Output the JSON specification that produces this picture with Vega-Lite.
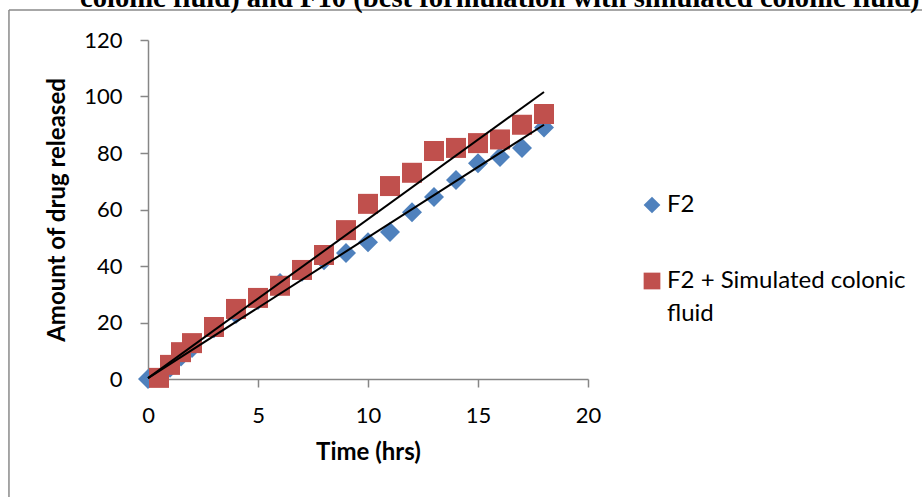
{
  "$schema": "https://vega.github.io/schema/vega-lite/v6.json",
  "autosize": {"type": "none"},
  "width": 440,
  "height": 339,
  "padding": {"left": 148, "top": 40, "right": 334, "bottom": 118},
  "background": "white",
  "title": {
    "text": "colonic fluid) and F10 (best formulation with simulated colonic fluid)",
    "font": "Liberation Serif",
    "fontSize": 28.6,
    "fontWeight": "bold",
    "color": "black",
    "anchor": "start",
    "frame": "group",
    "dx": -68,
    "offset": -3
  },
  "datasets": {
    "pts": [
      {"series": "F2", "t": 0, "v": 0},
      {"series": "F2", "t": 1, "v": 4},
      {"series": "F2", "t": 1.5, "v": 8},
      {"series": "F2", "t": 2, "v": 11},
      {"series": "F2", "t": 3, "v": 18},
      {"series": "F2", "t": 4, "v": 23},
      {"series": "F2", "t": 5, "v": 28},
      {"series": "F2", "t": 6, "v": 34},
      {"series": "F2", "t": 7, "v": 38},
      {"series": "F2", "t": 8, "v": 42},
      {"series": "F2", "t": 9, "v": 44.6},
      {"series": "F2", "t": 10, "v": 48.4},
      {"series": "F2", "t": 11, "v": 52},
      {"series": "F2", "t": 12, "v": 59},
      {"series": "F2", "t": 13, "v": 64.4},
      {"series": "F2", "t": 14, "v": 70.4},
      {"series": "F2", "t": 15, "v": 76.4},
      {"series": "F2", "t": 16, "v": 78.6},
      {"series": "F2", "t": 17, "v": 81.8},
      {"series": "F2", "t": 18, "v": 89},
      {"series": "F2 + Simulated colonic fluid", "t": 0.5, "v": 0.4},
      {"series": "F2 + Simulated colonic fluid", "t": 1, "v": 5},
      {"series": "F2 + Simulated colonic fluid", "t": 1.5, "v": 9.5},
      {"series": "F2 + Simulated colonic fluid", "t": 2, "v": 12.7},
      {"series": "F2 + Simulated colonic fluid", "t": 3, "v": 18.4},
      {"series": "F2 + Simulated colonic fluid", "t": 4, "v": 24.8},
      {"series": "F2 + Simulated colonic fluid", "t": 5, "v": 28.7},
      {"series": "F2 + Simulated colonic fluid", "t": 6, "v": 33},
      {"series": "F2 + Simulated colonic fluid", "t": 7, "v": 38.6},
      {"series": "F2 + Simulated colonic fluid", "t": 8, "v": 43.9},
      {"series": "F2 + Simulated colonic fluid", "t": 9, "v": 52.7},
      {"series": "F2 + Simulated colonic fluid", "t": 10, "v": 62},
      {"series": "F2 + Simulated colonic fluid", "t": 11, "v": 68.3},
      {"series": "F2 + Simulated colonic fluid", "t": 12, "v": 73},
      {"series": "F2 + Simulated colonic fluid", "t": 13, "v": 80.7},
      {"series": "F2 + Simulated colonic fluid", "t": 14, "v": 81.8},
      {"series": "F2 + Simulated colonic fluid", "t": 15, "v": 83.5},
      {"series": "F2 + Simulated colonic fluid", "t": 16, "v": 84.8},
      {"series": "F2 + Simulated colonic fluid", "t": 17, "v": 90},
      {"series": "F2 + Simulated colonic fluid", "t": 18, "v": 93.8}
    ],
    "trend": [
      {"line": "F2", "t": 0, "v": 0.3},
      {"line": "F2", "t": 18, "v": 90},
      {"line": "F2 + Simulated colonic fluid", "t": 0, "v": 0.3},
      {"line": "F2 + Simulated colonic fluid", "t": 18, "v": 101.6}
    ]
  },
  "layer": [
    {
      "data": {"values": [{}]},
      "mark": {"type": "rule", "color": "#8a8a8a", "strokeWidth": 1.5, "clip": false},
      "encoding": {
        "x": {"datum": -6.32, "type": "quantitative", "scale": {"domain": [0, 20], "nice": false}},
        "x2": {"datum": 40},
        "y": {"datum": 130.6, "type": "quantitative", "scale": {"domain": [0, 120], "nice": false}}
      }
    },
    {
      "data": {"values": [{}]},
      "mark": {"type": "rule", "color": "#8a8a8a", "strokeWidth": 1.5, "clip": false},
      "encoding": {
        "x": {"datum": -6.32, "type": "quantitative"},
        "y": {"datum": 130.6, "type": "quantitative"},
        "y2": {"datum": -60}
      }
    },
    {
      "data": {"name": "pts"},
      "mark": {"type": "point", "filled": true, "opacity": 1, "size": 400, "clip": false},
      "encoding": {
        "x": {
          "field": "t", "type": "quantitative",
          "scale": {"domain": [0, 20], "nice": false},
          "axis": {"values": [0, 5, 10, 15, 20], "title": "Time (hrs)", "titlePadding": 14, "labelFlush": false, "labelPadding": 18}
        },
        "y": {
          "field": "v", "type": "quantitative",
          "scale": {"domain": [0, 120], "nice": false},
          "axis": {"values": [0, 20, 40, 60, 80, 100, 120], "title": "Amount of drug released", "titlePadding": 14, "labelPadding": 18}
        },
        "color": {
          "field": "series", "type": "nominal",
          "scale": {"domain": ["F2", "F2 + Simulated colonic fluid"], "range": ["#4F81BD", "#C0504D"]},
          "legend": {
            "title": null,
            "orient": "none",
            "legendX": 492,
            "legendY": 153,
            "symbolSize": 280,
            "symbolStrokeWidth": 0,
            "labelFont": "Lato",
            "labelFontSize": 24,
            "labelColor": "black",
            "labelLimit": 400,
            "labelOffset": 3,
            "rowPadding": 52,
            "labelExpr": "datum.label == 'F2 + Simulated colonic fluid' ? ['F2 + Simulated colonic', 'fluid'] : datum.label"
          }
        },
        "shape": {
          "field": "series", "type": "nominal",
          "scale": {"domain": ["F2", "F2 + Simulated colonic fluid"], "range": ["diamond", "square"]}
        }
      }
    },
    {
      "data": {"name": "trend"},
      "mark": {"type": "line", "color": "black", "strokeWidth": 2},
      "encoding": {
        "x": {"field": "t", "type": "quantitative"},
        "y": {"field": "v", "type": "quantitative"},
        "detail": {"field": "line"}
      }
    }
  ],
  "config": {
    "view": {"stroke": null},
    "style": {"guide-label": {"lineHeight": 33}},
    "axis": {
      "grid": false,
      "domainColor": "#868686",
      "domainWidth": 1.5,
      "tickColor": "#868686",
      "tickWidth": 1.5,
      "tickSize": 8,
      "labelFont": "Lato",
      "labelFontSize": 22,
      "labelColor": "black",
      "titleFont": "Lato",
      "titleFontSize": 24,
      "titleFontWeight": "bold",
      "titleColor": "black"
    }
  }
}
